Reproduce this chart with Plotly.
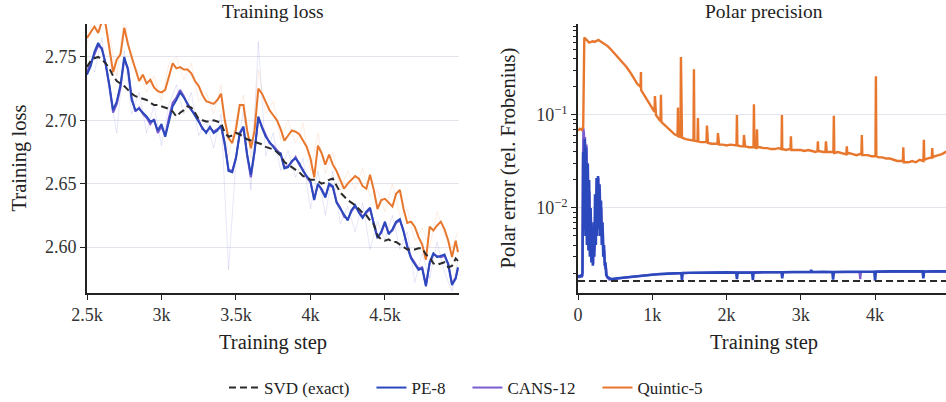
import plotly.graph_objects as go

# ---------------- Left panel: training loss (smoothed) ----------------
loss_steps = list(range(2500, 5000, 25)) + [4990]

svd_loss = [
    2.742, 2.747, 2.749, 2.750, 2.748, 2.745, 2.741, 2.735, 2.731, 2.729,
    2.727, 2.724, 2.721, 2.719, 2.718, 2.717, 2.716, 2.714, 2.712, 2.712,
    2.711, 2.710, 2.709, 2.707, 2.703, 2.706, 2.708, 2.711, 2.710, 2.706,
    2.701, 2.700, 2.699, 2.699, 2.700, 2.699, 2.698, 2.690, 2.687, 2.688,
    2.690, 2.689, 2.687, 2.685, 2.684, 2.683, 2.682, 2.681, 2.679, 2.678,
    2.677, 2.675, 2.672, 2.667, 2.665, 2.663, 2.661, 2.659, 2.656, 2.655,
    2.653, 2.653, 2.652, 2.650, 2.651, 2.653, 2.654, 2.648, 2.643, 2.640,
    2.637, 2.635, 2.633, 2.630, 2.627, 2.625, 2.621, 2.618, 2.609, 2.606,
    2.605, 2.606, 2.604, 2.604, 2.602, 2.600, 2.598, 2.598, 2.598, 2.599,
    2.599, 2.594, 2.592, 2.587, 2.586, 2.587, 2.588, 2.584, 2.585, 2.591,
    2.589]

pe8_loss = [
    2.736, 2.743, 2.754, 2.761, 2.756, 2.745, 2.728, 2.708, 2.715, 2.728,
    2.750, 2.740, 2.716, 2.708, 2.709, 2.706, 2.703, 2.699, 2.700, 2.692,
    2.697, 2.687, 2.700, 2.711, 2.716, 2.722, 2.718, 2.713, 2.709, 2.704,
    2.699, 2.694, 2.690, 2.695, 2.690, 2.692, 2.696, 2.682, 2.660, 2.659,
    2.670, 2.690, 2.695, 2.673, 2.657, 2.676, 2.703, 2.694, 2.687, 2.683,
    2.679, 2.675, 2.674, 2.662, 2.663, 2.668, 2.670, 2.666, 2.660, 2.656,
    2.652, 2.637, 2.650, 2.645, 2.639, 2.650, 2.648, 2.635, 2.630, 2.625,
    2.621, 2.629, 2.633, 2.627, 2.623, 2.628, 2.631, 2.618, 2.607, 2.612,
    2.620, 2.610, 2.614, 2.620, 2.622, 2.612, 2.600, 2.591, 2.587, 2.582,
    2.583, 2.569, 2.588, 2.595, 2.592, 2.593, 2.594, 2.586, 2.570, 2.575,
    2.584]

cans_loss = [
    2.738, 2.745, 2.752, 2.759, 2.757, 2.744, 2.727, 2.706, 2.713, 2.726,
    2.748, 2.741, 2.718, 2.707, 2.710, 2.705, 2.702, 2.697, 2.701, 2.690,
    2.695, 2.688, 2.702, 2.714, 2.718, 2.724, 2.719, 2.712, 2.708, 2.705,
    2.700, 2.693, 2.691, 2.694, 2.691, 2.693, 2.695, 2.680, 2.661, 2.660,
    2.671, 2.689, 2.694, 2.672, 2.655, 2.675, 2.702, 2.695, 2.688, 2.682,
    2.680, 2.676, 2.673, 2.663, 2.664, 2.667, 2.671, 2.665, 2.661, 2.655,
    2.651, 2.638, 2.649, 2.646, 2.640, 2.649, 2.647, 2.636, 2.631, 2.624,
    2.622, 2.628, 2.632, 2.628, 2.624, 2.627, 2.630, 2.619, 2.608, 2.611,
    2.619, 2.611, 2.613, 2.619, 2.621, 2.613, 2.601, 2.592, 2.588, 2.583,
    2.584, 2.570, 2.587, 2.594, 2.593, 2.592, 2.593, 2.587, 2.571, 2.576,
    2.583]

quintic_loss = [
    2.765, 2.770, 2.774, 2.769, 2.778, 2.776, 2.755, 2.738, 2.748, 2.752,
    2.773, 2.760, 2.750, 2.741, 2.731, 2.736, 2.729, 2.732, 2.726, 2.723,
    2.722, 2.724, 2.735, 2.745, 2.741, 2.742, 2.740, 2.740, 2.737, 2.731,
    2.727, 2.720, 2.715, 2.714, 2.713, 2.716, 2.721, 2.700, 2.686, 2.682,
    2.693, 2.712, 2.712, 2.692, 2.678, 2.692, 2.725, 2.721, 2.714, 2.708,
    2.704, 2.700, 2.693, 2.684, 2.688, 2.692, 2.691, 2.689, 2.684, 2.679,
    2.670, 2.655, 2.680, 2.674, 2.665, 2.673, 2.665, 2.660, 2.653, 2.646,
    2.650, 2.653, 2.656, 2.654, 2.648, 2.646, 2.657, 2.645, 2.630, 2.637,
    2.638, 2.635, 2.632, 2.642, 2.645, 2.630, 2.619, 2.620, 2.616, 2.608,
    2.602, 2.590, 2.616, 2.613, 2.617, 2.620, 2.614, 2.605, 2.592, 2.605,
    2.596]

# faint raw (unsmoothed) losses in the background
raw_steps = list(range(2500, 5000, 50)) + [4990]
pe8_raw = [
    2.745, 2.738, 2.765, 2.722, 2.690, 2.755, 2.705, 2.722, 2.690, 2.712,
    2.680, 2.712, 2.728, 2.705, 2.722, 2.688, 2.700, 2.678, 2.705, 2.582,
    2.668, 2.708, 2.645, 2.762, 2.672, 2.690, 2.660, 2.676, 2.655, 2.670,
    2.630, 2.660, 2.625, 2.660, 2.618, 2.632, 2.612, 2.635, 2.598, 2.620,
    2.606, 2.625, 2.598, 2.612, 2.572, 2.595, 2.575, 2.604, 2.580, 2.565, 2.590]
quintic_raw = [
    2.760, 2.785, 2.770, 2.768, 2.735, 2.782, 2.745, 2.738, 2.722, 2.735,
    2.715, 2.745, 2.750, 2.732, 2.745, 2.715, 2.722, 2.705, 2.728, 2.672,
    2.700, 2.720, 2.670, 2.740, 2.705, 2.715, 2.685, 2.700, 2.682, 2.698,
    2.660, 2.690, 2.658, 2.675, 2.645, 2.660, 2.645, 2.662, 2.640, 2.645,
    2.628, 2.650, 2.625, 2.630, 2.605, 2.615, 2.600, 2.628, 2.610, 2.600, 2.612]

loss_xticks = [2500, 3000, 3500, 4000, 4500]
loss_xtext = ["2.5k", "3k", "3.5k", "4k", "4.5k"]
loss_yticks = [2.60, 2.65, 2.70, 2.75]
loss_ytext = ["2.60", "2.65", "2.70", "2.75"]

# ---------------- Right panel: polar error ----------------
svd_polar_steps = [0, 5000]
svd_polar_err = [0.00164, 0.00164]

pe8_polar_steps = [
    0, 10, 20, 30, 40, 50, 60, 70, 80, 90,
    100, 110, 120, 130, 140, 150, 160, 170, 180, 190,
    200, 210, 220, 230, 240, 250, 260, 270, 280, 290,
    300, 310, 320, 330, 340, 350, 360, 370, 380, 390,
    400, 450, 500, 550, 600, 700, 800, 900, 1000, 1100,
    1200, 1300, 1390, 1400, 1410, 1500, 1600, 1700, 1800, 1900,
    2000, 2130, 2140, 2150, 2250, 2345, 2355, 2365, 2500, 2600,
    2740, 2750, 2760, 2900, 3000, 3130, 3140, 3150, 3300, 3425,
    3435, 3445, 3600, 3800, 3990, 4000, 4010, 4200, 4400, 4640,
    4650, 4660, 4800, 5000]
pe8_polar_err = [
    0.0019, 0.0018, 0.0019, 0.0018, 0.0019, 0.0018, 0.0020, 0.040, 0.006, 0.055,
    0.005, 0.045, 0.004, 0.030, 0.0035, 0.020, 0.0030, 0.010, 0.0026, 0.0040,
    0.0024, 0.0070, 0.0030, 0.014, 0.0040, 0.021, 0.005, 0.022, 0.006, 0.018,
    0.005, 0.012, 0.004, 0.007, 0.0030, 0.0040, 0.0024, 0.0026, 0.0019, 0.0018,
    0.0018, 0.00172, 0.00175, 0.00177, 0.00178, 0.00181, 0.00185, 0.00189, 0.00193, 0.00195,
    0.00197, 0.00199, 0.00200, 0.00168, 0.00200, 0.00201, 0.00202, 0.00201, 0.00203, 0.00202,
    0.00203, 0.00202, 0.00172, 0.00202, 0.00203, 0.00202, 0.00168, 0.00202, 0.00204, 0.00203,
    0.00204, 0.00175, 0.00204, 0.00205, 0.00204, 0.00205, 0.00215, 0.00205, 0.00206, 0.00205,
    0.00170, 0.00205, 0.00206, 0.00206, 0.00207, 0.00166, 0.00207, 0.00208, 0.00207, 0.00208,
    0.00175, 0.00208, 0.00209, 0.00208]

cans_polar_steps = [
    0, 20, 40, 60, 65, 72, 80, 88, 95, 105,
    115, 125, 135, 145, 155, 165, 175, 185, 195, 205,
    215, 225, 235, 245, 255, 265, 275, 285, 295, 305,
    315, 325, 335, 345, 355, 365, 375, 390, 420, 600,
    1000, 1500, 2000, 3000, 3790, 3800, 3810, 4500, 5000]
cans_polar_err = [
    0.0018, 0.0018, 0.0019, 0.0019, 0.030, 0.072, 0.065, 0.040, 0.058, 0.030,
    0.048, 0.015, 0.030, 0.006, 0.015, 0.004, 0.008, 0.0028, 0.0035, 0.0025,
    0.006, 0.0035, 0.012, 0.005, 0.019, 0.007, 0.021, 0.008, 0.016, 0.006,
    0.010, 0.0040, 0.006, 0.0030, 0.0035, 0.0022, 0.0024, 0.0018, 0.0017, 0.00177,
    0.00192, 0.00200, 0.00202, 0.00204, 0.00205, 0.00172, 0.00205, 0.00206, 0.00207]

quintic_polar_steps = [0, 25, 50, 70, 85, 100, 125, 150, 175, 200, 225, 250,
                       275, 300, 325, 350] + list(range(400, 5001, 50))
quintic_polar_err = [
    0.068, 0.071, 0.069, 0.074, 0.68, 0.66, 0.62, 0.60, 0.61, 0.62, 0.61, 0.63,
    0.64, 0.62, 0.60, 0.58,
    0.55, 0.50, 0.45, 0.41, 0.37, 0.33, 0.29, 0.25, 0.215, 0.185,
    0.16, 0.14, 0.12, 0.10, 0.088, 0.080, 0.073, 0.067, 0.062, 0.059,
    0.057, 0.055, 0.054, 0.053, 0.052, 0.051, 0.051, 0.050, 0.049, 0.049,
    0.048, 0.048, 0.047, 0.048, 0.047, 0.047, 0.046, 0.046, 0.045, 0.045,
    0.044, 0.045, 0.044, 0.044, 0.043, 0.043, 0.044, 0.043, 0.042, 0.043,
    0.042, 0.042, 0.042, 0.041, 0.042, 0.041, 0.040, 0.041, 0.040, 0.040,
    0.040, 0.039, 0.040, 0.039, 0.038, 0.039, 0.038, 0.037, 0.038, 0.037,
    0.037, 0.036, 0.036, 0.035, 0.035, 0.034, 0.034, 0.033, 0.032, 0.032,
    0.031, 0.031, 0.032, 0.031, 0.033, 0.032, 0.034, 0.035, 0.036, 0.037,
    0.038, 0.040, 0.041]
# occasional spikes (flank, peak, flank)
quintic_spike_steps = [
    842, 848, 854, 1030, 1036, 1042, 1111, 1117, 1123, 1340, 1346, 1352,
    1380, 1386, 1392, 1555, 1561, 1567, 1609, 1615, 1621, 1730, 1736, 1742,
    1878, 1884, 1890, 2134, 2140, 2146, 2228, 2234, 2240, 2363, 2369, 2375,
    2404, 2410, 2416, 2740, 2746, 2752, 2861, 2867, 2873, 3224, 3230, 3236,
    3332, 3338, 3344, 3439, 3445, 3451, 3614, 3620, 3626, 3816, 3822, 3828,
    4005, 4011, 4017, 4374, 4380, 4386, 4651, 4657, 4663, 4764, 4770, 4776]
quintic_spike_err = [
    0.200, 0.29, 0.183, 0.108, 0.16, 0.102, 0.086, 0.165, 0.084, 0.060, 0.12, 0.059,
    0.058, 0.42, 0.057, 0.053, 0.31, 0.053, 0.052, 0.093, 0.052, 0.051, 0.077, 0.050,
    0.049, 0.064, 0.048, 0.047, 0.10, 0.046, 0.046, 0.061, 0.046, 0.045, 0.13, 0.045,
    0.044, 0.070, 0.045, 0.043, 0.10, 0.043, 0.043, 0.059, 0.042, 0.041, 0.052, 0.040,
    0.040, 0.052, 0.040, 0.040, 0.098, 0.039, 0.039, 0.046, 0.038, 0.038, 0.061, 0.037,
    0.036, 0.26, 0.036, 0.032, 0.045, 0.031, 0.032, 0.054, 0.033, 0.035, 0.044, 0.035]

polar_xticks = [0, 1000, 2000, 3000, 4000]
polar_xtext = ["0", "1k", "2k", "3k", "4k"]
polar_yticks = [0.01, 0.1]
polar_ytext = ["10<sup>\u22122</sup>", "10<sup>\u22121</sup>"]

series_names = ["SVD (exact)", "PE-8", "CANS-12", "Quintic-5"]

# ---------------- styling ----------------
C_SVD = "#2b2b2b"
C_PE = "#2c48bd"
C_CANS = "#7a5bd0"
C_Q = "#e8772e"
FONT = "Liberation Serif, Times New Roman, serif"
PAD = "\u00a0" * 4   # extra spacing between legend entries

q_pairs = sorted(zip(quintic_polar_steps + quintic_spike_steps,
                     quintic_polar_err + quintic_spike_err))
q_x = [p[0] for p in q_pairs]
q_y = [p[1] for p in q_pairs]

fig = go.Figure()

# faint raw traces (left)
fig.add_trace(go.Scatter(x=raw_steps, y=quintic_raw, mode="lines",
                         line=dict(color="rgba(232,119,46,0.13)", width=1),
                         showlegend=False, hoverinfo="skip", xaxis="x", yaxis="y"))
fig.add_trace(go.Scatter(x=raw_steps, y=pe8_raw, mode="lines",
                         line=dict(color="rgba(60,72,200,0.13)", width=1),
                         showlegend=False, hoverinfo="skip", xaxis="x", yaxis="y"))

# left panel
fig.add_trace(go.Scatter(x=loss_steps, y=cans_loss, mode="lines", name=series_names[2] + PAD,
                         legendgroup="cans", legendrank=3,
                         line=dict(color=C_CANS, width=2), xaxis="x", yaxis="y"))
fig.add_trace(go.Scatter(x=loss_steps, y=pe8_loss, mode="lines", name=series_names[1] + PAD,
                         legendgroup="pe", legendrank=2,
                         line=dict(color=C_PE, width=2), xaxis="x", yaxis="y"))
fig.add_trace(go.Scatter(x=loss_steps, y=quintic_loss, mode="lines", name=series_names[3],
                         legendgroup="q", legendrank=4,
                         line=dict(color=C_Q, width=2), xaxis="x", yaxis="y"))
fig.add_trace(go.Scatter(x=loss_steps, y=svd_loss, mode="lines", name=series_names[0] + PAD,
                         legendgroup="svd", legendrank=1,
                         line=dict(color=C_SVD, width=2, dash="7px,4px"),
                         xaxis="x", yaxis="y"))

# right panel
fig.add_trace(go.Scatter(x=cans_polar_steps, y=cans_polar_err, mode="lines",
                         legendgroup="cans", showlegend=False,
                         line=dict(color=C_CANS, width=2.2), xaxis="x2", yaxis="y2"))
fig.add_trace(go.Scatter(x=pe8_polar_steps, y=pe8_polar_err, mode="lines",
                         legendgroup="pe", showlegend=False,
                         line=dict(color=C_PE, width=2.6), xaxis="x2", yaxis="y2"))
fig.add_trace(go.Scatter(x=q_x, y=q_y, mode="lines",
                         legendgroup="q", showlegend=False,
                         line=dict(color=C_Q, width=2.4), xaxis="x2", yaxis="y2"))
fig.add_trace(go.Scatter(x=svd_polar_steps, y=svd_polar_err, mode="lines",
                         legendgroup="svd", showlegend=False,
                         line=dict(color=C_SVD, width=2, dash="7px,4px"),
                         xaxis="x2", yaxis="y2"))

W, H = 946, 402
ydom = [1 - 293 / H, 1 - 24 / H]
axis_common = dict(showline=True, linecolor="#222", linewidth=1.6, ticks="outside",
                   ticklen=5, tickwidth=1.4, tickcolor="#222", zeroline=False,
                   tickfont=dict(family=FONT, size=18, color="#333"), mirror=False,
                   automargin=False)

minor_vals = [m * 10 ** e for e in (-3, -2, -1) for m in range(2, 10)]

fig.update_layout(
    width=W, height=H, margin=dict(l=0, r=0, t=0, b=0, pad=0, autoexpand=False),
    paper_bgcolor="white", plot_bgcolor="white",
    font=dict(family=FONT, color="#222"),
    xaxis=dict(domain=[87 / W, 459 / W], range=[2500, 4997], tickmode="array",
               tickvals=loss_xticks, ticktext=loss_xtext, showgrid=False,
               anchor="y", **axis_common),
    yaxis=dict(domain=ydom, range=[2.5637, 2.776], tickmode="array",
               tickvals=loss_yticks, ticktext=loss_ytext, showgrid=True,
               gridcolor="#e4e4ec", gridwidth=1, anchor="x", **axis_common),
    xaxis2=dict(domain=[578 / W, 1.0], range=[0, 4955], tickmode="array",
                tickvals=polar_xticks, ticktext=polar_xtext, showgrid=False,
                anchor="y2", **axis_common),
    yaxis2=dict(domain=ydom, type="log", range=[-2.914, -0.022], tickmode="array",
                tickvals=polar_yticks, ticktext=polar_ytext, showgrid=True,
                gridcolor="#e4e4ec", gridwidth=1, anchor="x2",
                minor=dict(tickmode="array", tickvals=minor_vals, ticks="outside",
                           ticklen=3, tickwidth=1.1, tickcolor="#222", showgrid=False),
                **axis_common),
    legend=dict(orientation="h", x=0.4926, xanchor="center", y=1 - 388 / H,
                yanchor="middle", font=dict(family=FONT, size=17, color="#222"),
                bgcolor="rgba(0,0,0,0)", traceorder="normal"),
    showlegend=True,
)

ann = [
    dict(text="Training loss", x=273 / W, y=1 - 12 / H, size=19.5, angle=0),
    dict(text="Polar precision", x=764 / W, y=1 - 12 / H, size=19.5, angle=0),
    dict(text="Training step", x=273 / W, y=1 - 342 / H, size=20.5, angle=0),
    dict(text="Training step", x=764 / W, y=1 - 342 / H, size=20.5, angle=0),
    dict(text="Training loss", x=19 / W, y=1 - 158.5 / H, size=20.5, angle=-90),
    dict(text="Polar error (rel. Frobenius)", x=508 / W, y=1 - 158.5 / H, size=20.5, angle=-90),
]
for a in ann:
    fig.add_annotation(text=a["text"], x=a["x"], y=a["y"], xref="paper", yref="paper",
                       xanchor="center", yanchor="middle", showarrow=False,
                       textangle=a["angle"],
                       font=dict(family=FONT, size=a["size"], color="#222"))

fig.write_html("out.html")
